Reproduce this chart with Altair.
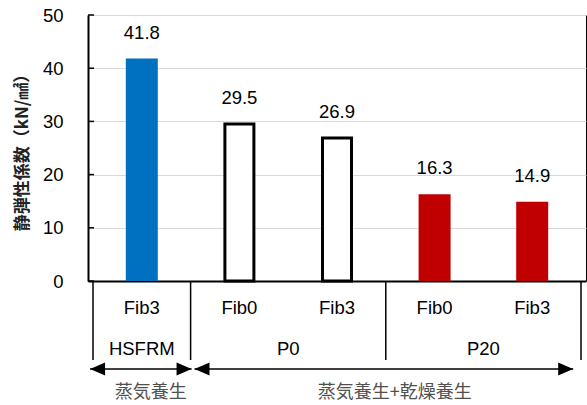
import altair as alt
import pandas as pd

# ---- data -------------------------------------------------------------
fibers = ["Fib3", "Fib0", "Fib3", "Fib0", "Fib3"]
mixes = ["HSFRM", "P0", "P0", "P20", "P20"]
curing = ["蒸気養生", "蒸気養生+乾燥養生", "蒸気養生+乾燥養生", "蒸気養生+乾燥養生", "蒸気養生+乾燥養生"]
modulus = [41.8, 29.5, 26.9, 16.3, 14.9]
y_ticks = [0, 10, 20, 30, 40, 50]

# ---- styling ----------------------------------------------------------
W, H = 498, 266
LATIN = "Liberation Sans"
CJK = "Noto Sans CJK JP"
FS = 18.5
mix_colors = {"HSFRM": "#0070C0", "P0": "#FFFFFF", "P20": "#C00000"}
px = 5 / W  # one pixel in x-data units

df = pd.DataFrame({"fiber": fibers, "mix": mixes, "curing": curing, "value": modulus})
df["pos"] = df.index + 0.5

# group spans (mix row and curing row)
def spans(col):
    out, start = [], 0
    for i in range(1, len(df) + 1):
        if i == len(df) or df[col][i] != df[col][start]:
            out.append({"label": df[col][start], "lo": start, "hi": i, "mid": (start + i) / 2})
            start = i
    return pd.DataFrame(out)

mix_spans = spans("mix")
cure_spans = spans("curing")
bounds = pd.DataFrame({"b": sorted(set(mix_spans["lo"]).union(mix_spans["hi"]))})

# arrow tips, pixel insets from each curing span's ends
arrow_insets = [(-3, 1), (4, -8)]
cure_spans["a0"] = [lo + a * px for lo, (a, _) in zip(cure_spans["lo"], arrow_insets)]
cure_spans["a1"] = [hi + b * px for hi, (_, b) in zip(cure_spans["hi"], arrow_insets)]

xscale = alt.Scale(domain=[0, 5], nice=False, zero=False)
yscale = alt.Scale(domain=[0, 50], nice=False)

X = alt.X("pos:Q", scale=xscale,
          axis=alt.Axis(labels=False, ticks=False, grid=False, title="",
                        domainColor="black", domainWidth=2))
Y = alt.Y("value:Q", scale=yscale,
          axis=alt.Axis(values=y_ticks, ticks=False, labelPadding=25,
                        labelFont=LATIN, labelFontSize=FS, labelColor="black",
                        domainColor="black", domainWidth=2,
                        gridColor="#d9d9d9", gridWidth=1,
                        title="静弾性係数（kN/㎟）", titleFont=CJK, titleFontSize=17,
                        titleFontWeight="bold", titleColor="#222222",
                        titleAngle=-90, titleAlign="center", titleBaseline="middle",
                        titleX=-66, titleY=H / 2))

base = alt.Chart(df)

filled = base.transform_filter(alt.datum.mix != "P0").mark_bar(size=32).encode(
    x=X, y=Y,
    fill=alt.Fill("mix:N", scale=alt.Scale(domain=list(mix_colors), range=list(mix_colors.values())),
                  legend=None),
)
outlined = base.transform_filter(alt.datum.mix == "P0").mark_bar(
    size=29, fill="white", stroke="black", strokeWidth=3
).encode(x="pos:Q", y="value:Q")

values_txt = base.mark_text(font=LATIN, fontSize=FS, dy=-26, baseline="middle", color="black").encode(
    x="pos:Q", y="value:Q", text=alt.Text("value:Q", format=".1f")
)

# inward tick marks on the value axis
ticks = alt.Chart(pd.DataFrame({"value": y_ticks})).mark_rule(color="black", strokeWidth=1.5).encode(
    y="value:Q", x=alt.value(0), x2=alt.value(6)
)

fiber_txt = base.mark_text(font=LATIN, fontSize=FS, baseline="middle", color="black").encode(
    x="pos:Q", y=alt.value(293), text="fiber:N"
)

mix_txt = alt.Chart(mix_spans).mark_text(font=LATIN, fontSize=FS, baseline="middle", color="black").encode(
    x=alt.X("mid:Q", scale=xscale), y=alt.value(334), text="label:N"
)

separators = alt.Chart(bounds).mark_rule(color="black", strokeWidth=1.5).encode(
    x=alt.X("b:Q", scale=xscale), y=alt.value(H), y2=alt.value(345)
)

arrow_line = alt.Chart(cure_spans).mark_rule(color="black", strokeWidth=1.5).encode(
    x=alt.X("a0:Q", scale=xscale), x2="a1:Q", y=alt.value(354)
)
head_r = alt.Chart(cure_spans).mark_point(
    shape="M-1,-0.87L1,0L-1,0.87Z", size=225, filled=True, color="black", opacity=1, xOffset=-7.5
).encode(x=alt.X("a1:Q", scale=xscale), y=alt.value(354))
head_l = alt.Chart(cure_spans).mark_point(
    shape="M1,-0.87L-1,0L1,0.87Z", size=225, filled=True, color="black", opacity=1, xOffset=7.5
).encode(x=alt.X("a0:Q", scale=xscale), y=alt.value(354))

cure_txt = alt.Chart(cure_spans).mark_text(font=CJK, fontSize=18, baseline="middle", color="#505050", dx=9).encode(
    x=alt.X("mid:Q", scale=xscale), y=alt.value(378), text="label:N"
)

chart = alt.layer(
    filled, outlined, ticks, values_txt, fiber_txt, mix_txt, separators,
    arrow_line, head_r, head_l, cure_txt
).properties(
    width=W, height=H,
    autosize=alt.AutoSizeParams(type="none"),
    padding={"left": 88, "top": 15, "right": 1, "bottom": 124},
).configure_view(stroke="black", strokeWidth=1)

chart.save("out.html", embed_options={"renderer": "svg", "actions": False})
